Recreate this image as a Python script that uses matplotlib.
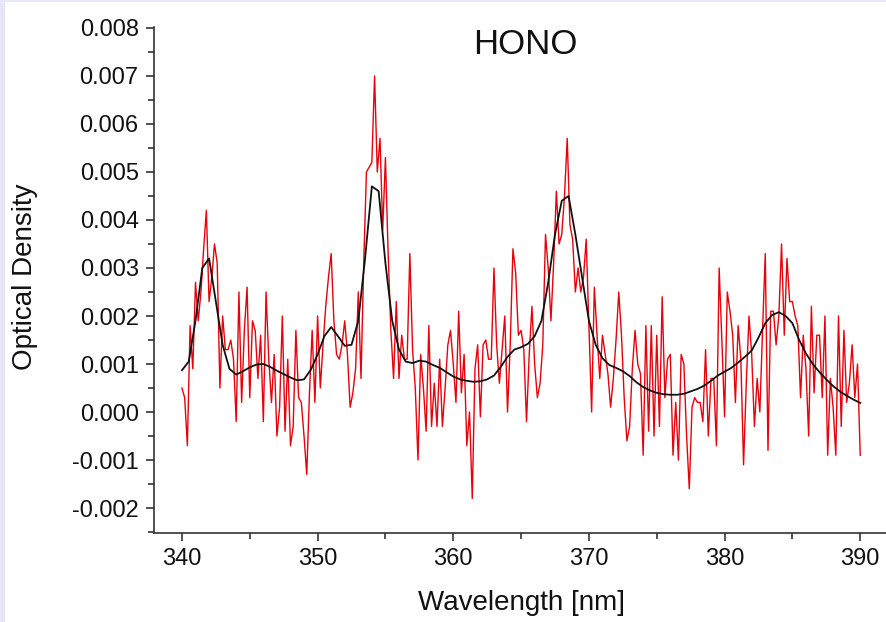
import numpy as np
import matplotlib
matplotlib.use("Agg")
import matplotlib.pyplot as plt
from matplotlib.ticker import MultipleLocator, FormatStrFormatter
from matplotlib.patches import Rectangle

plt.rcParams['font.family'] = ['Liberation Sans', 'DejaVu Sans']

# Measured spectrum: 340-390 nm sampled every 0.2 nm (one row per nm)
wl_start, wl_step = 340.0, 0.2
measured_od = [
    0.0005, 0.0003, -0.0007, 0.0018, 0.0009,
    0.0027, 0.0019, 0.0025, 0.0034, 0.0042,
    0.0023, 0.0028, 0.0035, 0.0031, 0.0005,
    0.0020, 0.0013, 0.0013, 0.0015, 0.0011,
    -0.0002, 0.0025, 0.0002, 0.0017, 0.0026,
    0.0003, 0.0019, 0.0017, 0.0007, 0.0016,
    -0.0002, 0.0025, 0.0011, 0.0002, 0.0012,
    -0.0005, 0.0001, 0.0020, -0.0004, 0.0011,
    -0.0007, -0.0003, 0.0017, 0.0003, 0.0002,
    -0.0005, -0.0013, 0.0004, 0.0017, 0.0002,
    0.0020, 0.0005, 0.0014, 0.0022, 0.0028,
    0.0033, 0.0019, 0.0012, 0.0011, 0.0014,
    0.0019, 0.0012, 0.0001, 0.0004, 0.0009,
    0.0025, 0.0007, 0.0031, 0.0050, 0.0051,
    0.0052, 0.0070, 0.0050, 0.0057, 0.0038,
    0.0053, 0.0033, 0.0017, 0.0007, 0.0023,
    0.0007, 0.0016, 0.0011, 0.0011, 0.0033,
    0.0013, 0.0005, -0.0010, 0.0012, 0.0005,
    -0.0004, 0.0018, -0.0003, 0.0006, -0.0003,
    0.0011, -0.0003, 0.0005, 0.0014, 0.0017,
    0.0010, 0.0002, 0.0021, 0.0004, 0.0012,
    -0.0007, 0.0000, -0.0018, 0.0009, 0.0014,
    -0.0001, 0.0014, 0.0015, 0.0011, 0.0011,
    0.0030, 0.0014, 0.0006, 0.0013, 0.0020,
    0.0000, 0.0014, 0.0034, 0.0029, 0.0016,
    0.0017, 0.0013, -0.0002, 0.0012, 0.0022,
    0.0010, 0.0003, 0.0006, 0.0014, 0.0037,
    0.0030, 0.0019, 0.0031, 0.0046, 0.0035,
    0.0037, 0.0045, 0.0057, 0.0039, 0.0036,
    0.0025, 0.0030, 0.0025, 0.0028, 0.0036,
    0.0018, 0.0000, 0.0026, 0.0016, 0.0007,
    0.0016, 0.0012, 0.0008, 0.0001, 0.0007,
    0.0015, 0.0025, 0.0016, 0.0003, -0.0006,
    -0.0003, 0.0009, 0.0017, 0.0010, 0.0008,
    -0.0009, 0.0018, -0.0004, 0.0018, -0.0005,
    0.0016, -0.0003, 0.0024, 0.0003, 0.0011,
    0.0012, -0.0009, 0.0002, -0.0010, 0.0012,
    0.0010, -0.0005, -0.0016, 0.0001, 0.0003,
    0.0002, 0.0002, -0.0002, 0.0013, -0.0005,
    0.0007, 0.0007, -0.0007, 0.0030, 0.0015,
    -0.0001, 0.0025, 0.0021, 0.0016, 0.0002,
    0.0018, 0.0011, -0.0011, 0.0006, 0.0020,
    0.0012, -0.0003, 0.0007, 0.0000, 0.0017,
    0.0033, -0.0008, 0.0021, 0.0021, 0.0014,
    0.0020, 0.0035, 0.0016, 0.0032, 0.0023,
    0.0023, 0.0020, 0.0018, 0.0003, 0.0016,
    0.0009, -0.0005, 0.0022, 0.0004, 0.0016,
    0.0016, 0.0003, 0.0020, -0.0009, 0.0007,
    0.0001, -0.0009, 0.0020, -0.0003, 0.0017,
    0.0002, 0.0006, 0.0014, 0.0003, 0.0010,
    -0.0009,
]

# Reference HONO cross-section fit, sampled every 0.5 nm
fit_step = 0.5
fit_od = [
    0.00087, 0.00105, 0.0019, 0.0030, 0.0032, 0.0023, 0.0014, 0.0009, 0.00078, 0.00085,
    0.00093, 0.00099, 0.00100, 0.00094, 0.00086, 0.00079, 0.00072, 0.00066, 0.00068, 0.00088,
    0.0012, 0.00158, 0.00177, 0.00158, 0.00138, 0.0014, 0.0019, 0.0032, 0.0047, 0.0046,
    0.0031, 0.0019, 0.0013, 0.00105, 0.00102, 0.00107, 0.00105, 0.00098, 0.00092, 0.00083,
    0.00074, 0.00068, 0.00065, 0.00063, 0.00064, 0.00068, 0.00076, 0.00094, 0.00115, 0.0013,
    0.00135, 0.00142, 0.00158, 0.0019, 0.0027, 0.0037, 0.0044, 0.0045, 0.0037, 0.0028,
    0.0019, 0.0014, 0.00112, 0.00098, 0.00092, 0.00085, 0.00075, 0.00062, 0.00052, 0.00045,
    0.0004, 0.00037, 0.00036, 0.00036, 0.00038, 0.00043, 0.00048, 0.00055, 0.00065, 0.00076,
    0.00084, 0.00092, 0.00103, 0.00115, 0.00128, 0.00155, 0.00185, 0.00202, 0.00208, 0.002,
    0.00185, 0.0015, 0.00122, 0.001, 0.00083, 0.00068, 0.00054, 0.00043, 0.00034, 0.00026,
    0.00019,
]

x_ticks = [340, 350, 360, 370, 380, 390]
y_ticks = [-0.002, -0.001, 0.000, 0.001, 0.002, 0.003, 0.004, 0.005, 0.006, 0.007, 0.008]

wl = wl_start + wl_step * np.arange(len(measured_od))
wl_fit = wl_start + fit_step * np.arange(len(fit_od))

W, H = 886, 622
fig = plt.figure(figsize=(W / 100, H / 100), dpi=100, facecolor='#e6e6f6')
# white page with a thin lavender frame on the left and top
fig.patches.append(Rectangle((5 / W, 0), 1, 1 - 2 / H, transform=fig.transFigure,
                             facecolor='white', edgecolor='none', zorder=-10))

ax = fig.add_axes([154 / W, 1 - 533 / H, 1 - 154 / W, (533 - 27) / H])
ax.set_facecolor('none')

ax.plot(wl, measured_od, color='#e8000b', lw=1.0, zorder=2)
ax.plot(wl_fit, fit_od, color='#111111', lw=1.3, zorder=3)

ax.set_xlim(337.94, 391.9)
ax.set_ylim(-0.00252, 0.00802)
ax.set_xticks(x_ticks)
ax.set_yticks(y_ticks)
ax.xaxis.set_minor_locator(MultipleLocator(5))
ax.yaxis.set_minor_locator(MultipleLocator(0.0005))
ax.yaxis.set_major_formatter(FormatStrFormatter('%.3f'))

for side in ('top', 'right'):
    ax.spines[side].set_visible(False)
for side in ('left', 'bottom'):
    ax.spines[side].set_color('#333333')
    ax.spines[side].set_linewidth(1.2)

ax.tick_params(which='major', direction='out', length=6, width=1.2, color='#333333',
               labelsize=17, labelcolor='#111111', pad=5)
ax.tick_params(which='minor', direction='out', length=4, width=1.2, color='#333333')

fig.text(25 / W, 1 - 277 / H, 'Optical Density', rotation=90, ha='center', va='center',
         fontsize=20, color='#111111')
fig.text(522 / W, 1 - 603 / H, 'Wavelength [nm]', ha='center', va='center',
         fontsize=20, color='#111111')
fig.text(525 / W, 1 - 45 / H, 'HONO', ha='center', va='center',
         fontsize=25, color='#111111')

fig.savefig('out.png', dpi=100, facecolor=fig.get_facecolor())
